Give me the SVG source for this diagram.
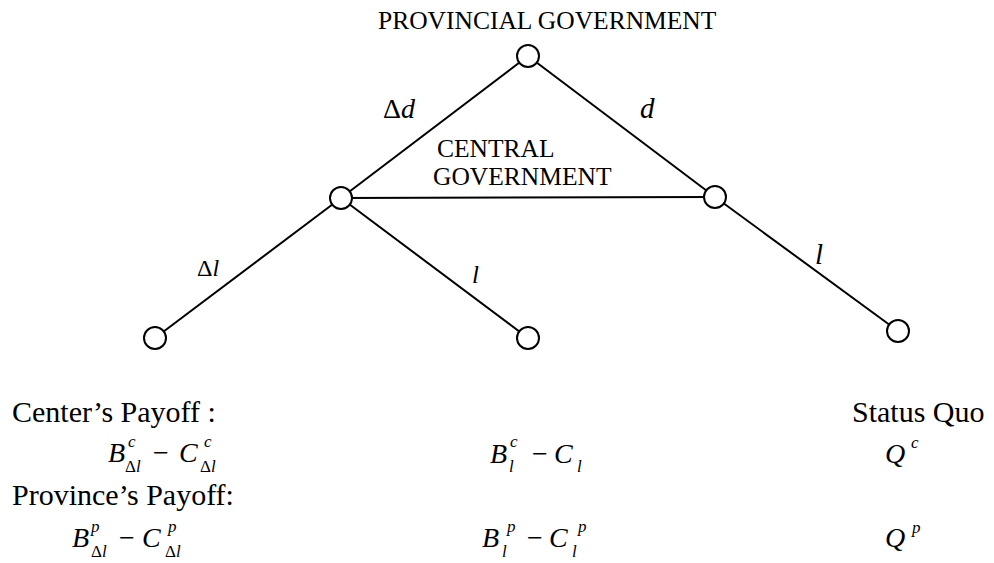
<svg xmlns="http://www.w3.org/2000/svg" width="994" height="563" viewBox="0 0 994 563" font-family="'Liberation Serif', 'Times New Roman', serif">
<style>
text{font-family:'Liberation Serif','Times New Roman',serif;fill:#000}
.lbl{font-size:25.5px}
.big{font-size:30px}
.m{font-size:28px;font-style:italic}
.s{font-size:17px;font-style:italic}
.up{font-style:normal}
.node{fill:#fff;stroke:#000;stroke-width:2}
.edge{stroke:#000;stroke-width:2;fill:none}
</style>
<rect width="994" height="563" fill="#fff"/>
<g id="connectors">
<line class="edge" x1="528" y1="56" x2="341" y2="198"/>
<line class="edge" x1="528" y1="56" x2="715" y2="197"/>
<line class="edge" x1="341" y1="198" x2="715" y2="197"/>
<line class="edge" x1="341" y1="198" x2="155" y2="338"/>
<line class="edge" x1="341" y1="198" x2="528" y2="338"/>
<line class="edge" x1="715" y1="197" x2="898" y2="331"/>
<text x="383" y="118" font-size="28">Δ<tspan font-style="italic">d</tspan></text>
<text x="640" y="118" font-size="29" font-style="italic">d</text>
<text x="197" y="276" font-size="24">Δ<tspan font-style="italic">l</tspan></text>
<text x="472" y="283" font-size="25" font-style="italic">l</text>
<text x="815" y="264" font-size="29" font-style="italic">l</text>
</g>
<g id="provincial">
<circle class="node" cx="528" cy="56" r="11"/>
<text class="lbl" x="378" y="29">PROVINCIAL GOVERNMENT</text>
</g>
<g id="central">
<circle class="node" cx="341" cy="198" r="11"/>
<text class="lbl" x="437" y="157">CENTRAL</text>
<text class="lbl" x="433" y="185">GOVERNMENT</text>
</g>
<g id="central-right">
<circle class="node" cx="715" cy="197" r="11"/>
</g>
<g id="leaf-dl">
<circle class="node" cx="155" cy="338" r="11"/>
</g>
<g id="leaf-l">
<circle class="node" cx="528" cy="338" r="11"/>
</g>
<g id="leaf-sq">
<circle class="node" cx="898" cy="331" r="11"/>
</g>
<g id="payoffs">
<text class="big" x="12" y="422">Center’s Payoff :</text>
<text class="big" x="12" y="505">Province’s Payoff:</text>
<text class="big" x="852" y="422">Status Quo</text>
<text class="m" x="108" y="462">B</text>
<text class="s" x="128" y="447">c</text>
<text class="s" x="125" y="472"><tspan class="up">Δ</tspan>l</text>
<text class="m up" x="153" y="462">−</text>
<text class="m" x="179" y="462">C</text>
<text class="s" x="204" y="447">c</text>
<text class="s" x="200" y="472"><tspan class="up">Δ</tspan>l</text>
<text class="m" x="490" y="463">B</text>
<text class="s" x="510" y="447">c</text>
<text class="s" x="509" y="472">l</text>
<text class="m up" x="532" y="463">−</text>
<text class="m" x="554" y="463">C</text>
<text class="s" x="577" y="472">l</text>
<text class="m" x="885" y="463">Q</text>
<text class="s" x="911" y="448">c</text>
<text class="m" x="72" y="547">B</text>
<text class="s" x="91" y="532">p</text>
<text class="s" x="91" y="557"><tspan class="up">Δ</tspan>l</text>
<text class="m up" x="119" y="547">−</text>
<text class="m" x="142" y="547">C</text>
<text class="s" x="168" y="532">p</text>
<text class="s" x="165" y="557"><tspan class="up">Δ</tspan>l</text>
<text class="m" x="482" y="547">B</text>
<text class="s" x="507" y="532">p</text>
<text class="s" x="502" y="557">l</text>
<text class="m up" x="527" y="547">−</text>
<text class="m" x="549" y="547">C</text>
<text class="s" x="578" y="532">p</text>
<text class="s" x="572" y="557">l</text>
<text class="m" x="885" y="547">Q</text>
<text class="s" x="912" y="533">p</text>
</g>
</svg>
